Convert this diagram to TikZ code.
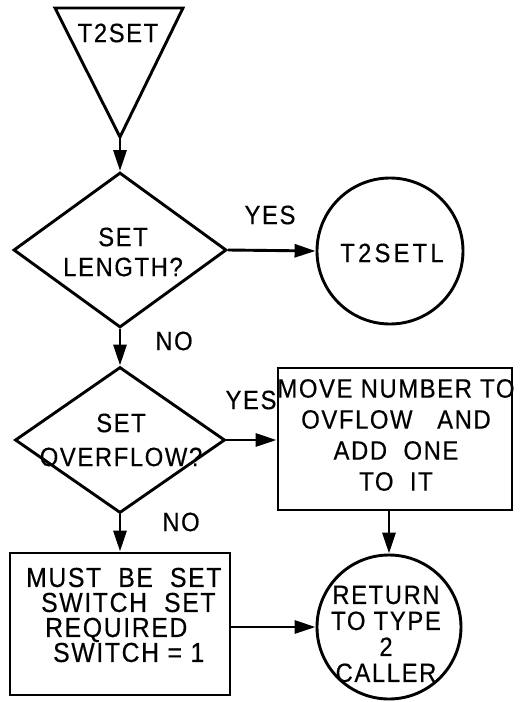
\documentclass[tikz,border=0pt]{standalone}
\usepackage{fontspec}
\setmainfont{Liberation Sans}[LetterSpace=6,FakeStretch=0.9,FakeBold=0.4]
\usetikzlibrary{shapes.geometric,arrows.meta}
\begin{document}
\begin{tikzpicture}[x=1pt,y=-1pt,
 txt/.style={font=\fontsize{26.5}{30}\selectfont,inner sep=0pt},
 ln/.style={line width=2.9pt},
 arr/.style={ln,-{Triangle[length=21pt,width=13pt]}},
 dia/.style={ln,draw,diamond,inner sep=0pt},
 box/.style={ln,draw,rectangle,inner sep=0pt},
 circ/.style={ln,draw,circle,inner sep=0pt},
]
\useasboundingbox[fill=white] (0,0) rectangle (522,702);
% start triangle
\draw[ln,line join=miter] (55,8) -- (183,8) -- (120,137) -- cycle;
\coordinate (tapex) at (120,137);
\node[txt] (t2set) at (118,33) {T2SET};
% first decision
\node[dia,aspect=1.374,minimum width=213pt,minimum height=155pt] (d1) at (120,250) {};
\node[txt,align=center,font=\fontsize{26.5}{30}\selectfont] (d1t) at (123,252) {SET\\LENGTH?};
\node[circ,minimum size=146pt] (c1) at (390,251) {};
\node[txt,font=\fontsize{26.5}{30}\addfontfeature{LetterSpace=12}] (c1t) at (392,253) {T2SETL};
% second decision
\node[dia,aspect=1.438,minimum width=210pt,minimum height=146pt] (d2) at (120,440) {};
\node[txt,align=center,font=\fontsize{26.5}{34}\selectfont] (d2t) at (121,440) {SET\\OVERFLOW?};
\node[box,minimum width=234pt,minimum height=142pt] (r1) at (395,439) {};
\node[txt,align=center,font=\fontsize{26.5}{31}\selectfont] (r1t) at (396,435) {MOVE NUMBER TO\\OVFLOW\ \ \ AND\\ADD\ \ ONE\\TO\ \ IT};
\node[box,minimum width=220pt,minimum height=142pt] (r2) at (120,624) {};
\node[txt,align=left,anchor=west,font=\fontsize{27.5}{25}\selectfont] (r2t) at (26,615) {MUST\ \ BE\ \ SET\\\hspace*{15pt}SWITCH\ \ SET\\\hspace*{19pt}REQUIRED\\\hspace*{27pt}SWITCH = 1};
\node[circ,minimum size=144pt] (c2) at (389,627) {};
\node[txt,align=center,font=\fontsize{26.5}{26}\selectfont] (c2t) at (386,634) {RETURN\\TO TYPE\\2\\CALLER};
% labels
\node[txt] (yes1) at (270,215) {YES};
\node[txt] (no1) at (174,341) {NO};
\node[txt] (yes2) at (251,400) {YES};
\node[txt] (no2) at (181,522) {NO};
% connectors
\draw[arr] (tapex) -- (d1.north);
\draw[arr] (d1.east) -- (c1.west);
\draw[arr] (d1.south) -- (d2.north);
\draw[arr] (d2.east) -- (r1.west |- d2.east);
\draw[arr] (d2.south) -- (r2.north);
\draw[arr] (r1.south -| c2.north) -- (c2.north);
\draw[arr] (r2.east |- c2.west) -- (c2.west);
\end{tikzpicture}
\end{document}
